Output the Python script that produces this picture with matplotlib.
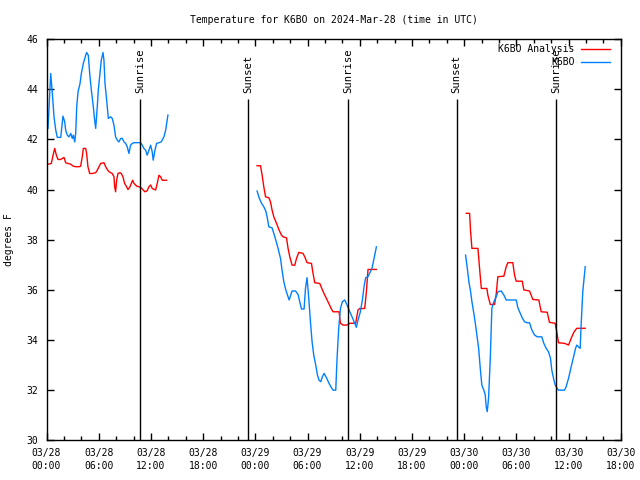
import matplotlib
matplotlib.use("Agg")
import matplotlib.pyplot as plt
from matplotlib.ticker import MultipleLocator

# hours since 2024-03-28 00:00 UTC, temperature in degrees F
obs1_h = [0.17, 0.48, 0.67, 0.86, 1.06, 1.24, 1.63, 1.89, 2.09, 2.2, 2.39, 2.58, 2.78, 2.96, 3.08,
          3.24, 3.35, 3.47, 3.62, 3.85, 4.0, 4.23, 4.5, 4.61, 4.8, 4.96, 5.15, 5.38, 5.53, 5.65,
          5.83, 5.95, 6.14, 6.29, 6.49, 6.6, 6.72, 6.91, 7.1, 7.37, 7.55, 7.75, 7.94, 8.13, 8.32,
          8.52, 8.71, 8.9, 9.09, 9.28, 9.47, 9.66, 9.85, 10.05, 10.81, 11.0, 11.19, 11.39, 11.57,
          11.77, 11.96, 12.15, 12.26, 12.46, 12.65, 12.92, 13.18, 13.49, 13.69, 13.95]
obs1_t = [42.44, 44.63, 43.83, 42.9, 42.37, 42.08, 42.08, 42.93, 42.7, 42.37, 42.17, 42.1, 42.24,
          42.04, 42.17, 41.9, 42.24, 43.3, 43.9, 44.23, 44.63, 45.03, 45.36, 45.47, 45.36, 44.63,
          43.97, 43.3, 42.77, 42.44, 43.3, 43.97, 44.63, 45.16, 45.47, 45.16, 44.23, 43.57, 42.84,
          42.9, 42.84, 42.57, 42.1, 41.97, 41.9, 42.04, 42.04, 41.9, 41.84, 41.7, 41.44, 41.77,
          41.84, 41.87, 41.87, 41.77, 41.64, 41.57, 41.37, 41.57, 41.77, 41.5, 41.17, 41.57, 41.84,
          41.87, 41.9, 42.1, 42.37, 42.97]

ana1_h = [0.17, 0.55, 0.75, 0.94, 1.13, 1.32, 1.63, 1.81, 2.01, 2.2, 2.47, 2.78, 3.08, 3.35, 3.73,
          3.92, 4.11, 4.23, 4.5, 4.61, 4.76, 4.96, 5.26, 5.65, 5.83, 6.03, 6.22, 6.6, 6.8, 6.98,
          7.18, 7.55, 7.75, 7.83, 7.94, 8.06, 8.21, 8.44, 8.59, 8.78, 8.98, 9.2, 9.36, 9.59, 9.74,
          9.9, 10.05, 10.36, 10.62, 10.88, 11.11, 11.31, 11.57, 11.77, 11.96, 12.15, 12.54, 12.72,
          12.92, 13.11, 13.3, 13.8]
ana1_t = [41.01, 41.04, 41.37, 41.64, 41.37, 41.2, 41.2, 41.24, 41.28, 41.07, 41.04, 41.01, 40.93,
          40.91, 40.91, 40.93, 41.31, 41.64, 41.64, 41.44, 40.91, 40.64, 40.64, 40.67, 40.77, 40.91,
          41.04, 41.07, 40.91, 40.8, 40.71, 40.64, 40.51, 40.11, 39.91, 40.37, 40.64, 40.67, 40.64,
          40.51, 40.24, 40.11, 40.0, 40.11, 40.24, 40.37, 40.24, 40.14, 40.11, 40.07, 39.98, 39.91,
          39.95, 40.11, 40.18, 40.04, 39.98, 40.24, 40.57, 40.51, 40.37, 40.37]

obs2_h = [24.2, 24.43, 24.71, 24.97, 25.2, 25.35, 25.55, 25.92, 26.12, 26.35, 26.61, 26.89, 27.07,
          27.27, 27.5, 27.69, 27.88, 28.22, 28.61, 28.91, 29.1, 29.3, 29.6, 29.76, 29.94, 30.14,
          30.33, 30.52, 30.71, 30.94, 31.14, 31.32, 31.52, 31.71, 31.9, 32.17, 32.47, 32.74, 32.93,
          33.24, 33.39, 33.58, 33.78, 34.0, 34.27, 34.54, 34.85, 35.16, 35.42, 35.61, 35.8, 36.07,
          36.3, 36.49, 36.68, 36.95, 37.22, 37.4, 37.6, 37.91]
obs2_t = [39.94, 39.67, 39.45, 39.31, 39.14, 38.91, 38.51, 38.47, 38.25, 37.98, 37.65, 37.25, 36.78,
          36.32, 35.99, 35.79, 35.59, 35.95, 35.95, 35.81, 35.52, 35.23, 35.23, 36.05, 36.48, 35.65,
          34.72, 33.92, 33.39, 32.99, 32.59, 32.39, 32.33, 32.53, 32.66, 32.49, 32.26, 32.09, 31.99,
          31.99, 33.26, 34.46, 35.25, 35.52, 35.59, 35.39, 35.12, 34.88, 34.66, 34.5, 34.79, 35.12,
          35.59, 36.12, 36.48, 36.52, 36.72, 36.85, 37.18, 37.71]

ana2_h = [24.2, 24.59, 24.78, 24.97, 25.17, 25.55, 25.74, 25.92, 26.12, 26.43, 26.73, 27.0, 27.19,
          27.58, 27.76, 27.96, 28.22, 28.53, 28.73, 28.99, 29.48, 29.68, 29.94, 30.45, 30.63, 30.83,
          31.4, 31.71, 31.97, 32.35, 32.74, 32.93, 33.62, 33.78, 34.08, 34.54, 34.85, 35.53, 35.8,
          35.99, 36.57, 36.76, 36.95, 37.91]
ana2_t = [40.95, 40.95, 40.57, 40.11, 39.71, 39.67, 39.51, 39.18, 38.91, 38.65, 38.38, 38.18, 38.11,
          38.07, 37.65, 37.31, 36.98, 36.98, 37.25, 37.49, 37.45, 37.31, 37.08, 37.05, 36.65, 36.28,
          36.25, 35.99, 35.79, 35.52, 35.23, 35.12, 35.12, 34.66, 34.59, 34.59, 34.66, 34.66, 35.19,
          35.25, 35.25, 35.92, 36.81, 36.81]

obs3_h = [48.16, 48.36, 48.54, 48.74, 48.89, 49.08, 49.28, 49.46, 49.66, 49.85, 50.03, 50.26, 50.42,
          50.53, 50.65, 50.8, 51.0, 51.18, 51.41, 51.69, 51.87, 52.26, 52.56, 52.83, 53.98, 54.17,
          54.44, 54.67, 54.94, 55.25, 55.51, 55.78, 56.09, 56.39, 56.92, 57.15, 57.43, 57.69, 57.92,
          58.07, 58.27, 58.46, 58.69, 58.84, 59.53, 59.72, 59.99, 60.3, 60.57, 60.8, 60.94, 61.13,
          61.33, 61.44, 61.63, 61.91]
obs3_t = [37.38, 36.85, 36.32, 35.92, 35.52, 35.12, 34.66, 34.19, 33.66, 32.86, 32.19, 31.99, 31.8,
          31.33, 31.13, 31.66, 33.26, 35.25, 35.52, 35.72, 35.92, 35.95, 35.79, 35.59, 35.59, 35.28,
          35.06, 34.88, 34.72, 34.68, 34.68, 34.39, 34.19, 34.12, 34.12, 33.86, 33.66, 33.52, 33.26,
          32.79, 32.46, 32.19, 32.06, 31.99, 31.99, 32.13, 32.46, 32.93, 33.32, 33.66, 33.79, 33.72,
          33.66, 34.59, 35.92, 36.92]

ana3_h = [48.24, 48.62, 48.74, 48.89, 49.58, 49.77, 49.97, 50.61, 50.72, 51.0, 51.49, 51.69, 51.87,
          52.56, 52.83, 53.02, 53.59, 53.79, 53.98, 54.67, 54.86, 55.51, 55.89, 56.58, 56.85, 57.54,
          57.8, 58.46, 58.64, 58.84, 59.53, 59.99, 60.3, 60.6, 60.94, 61.91]
ana3_t = [39.05, 39.05, 38.31, 37.65, 37.65, 36.85, 36.05, 36.05, 35.79, 35.41, 35.41, 35.85, 36.52,
          36.54, 36.92, 37.08, 37.08, 36.58, 36.34, 36.34, 35.99, 35.95, 35.61, 35.59, 35.12, 35.1,
          34.7, 34.66, 34.32, 33.88, 33.86, 33.79, 34.06, 34.3, 34.46, 34.46]

sun_hours = [10.73, 23.13, 34.62, 47.13, 58.61]
sun_names = ["Sunrise", "Sunset", "Sunrise", "Sunset", "Sunrise"]

tick_hours = list(range(0, 67, 6))
tick_labels = ["03/28\n00:00", "03/28\n06:00", "03/28\n12:00", "03/28\n18:00",
               "03/29\n00:00", "03/29\n06:00", "03/29\n12:00", "03/29\n18:00",
               "03/30\n00:00", "03/30\n06:00", "03/30\n12:00", "03/30\n18:00"]

plt.rcParams['font.family'] = 'DejaVu Sans Mono'
plt.rcParams['font.size'] = 7

fig = plt.figure(figsize=(6.4, 4.8), dpi=100)
ax = fig.add_axes([0.0727, 0.0833, 0.8973, 0.835])

red = '#ff0000'
blue = '#0080ff'
ax.plot(ana1_h, ana1_t, color=red, lw=1.0, label='K6BO Analysis')
ax.plot(obs1_h, obs1_t, color=blue, lw=1.0, label='K6BO')
ax.plot(ana2_h, ana2_t, color=red, lw=1.0)
ax.plot(obs2_h, obs2_t, color=blue, lw=1.0)
ax.plot(ana3_h, ana3_t, color=red, lw=1.0)
ax.plot(obs3_h, obs3_t, color=blue, lw=1.0)

ax.vlines(sun_hours, 30, 43.62, color='black', lw=1.0)
for h, name in zip(sun_hours, sun_names):
    ax.text(h, 43.87, name, rotation=90, ha='center', va='bottom', fontsize=7.6)

ax.set_xlim(0, 66)
ax.set_ylim(30, 46)
ax.set_xticks(tick_hours)
ax.set_xticklabels(tick_labels, linespacing=1.35)
ax.xaxis.set_minor_locator(MultipleLocator(2))
ax.yaxis.set_major_locator(MultipleLocator(2))
ax.tick_params(which='both', direction='in', top=True, right=True, width=1)
ax.tick_params(which='major', length=5, pad=6)
ax.tick_params(which='minor', length=3)
for s in ax.spines.values():
    s.set_linewidth(1.0)

ax.set_ylabel('degrees F', labelpad=9)
ax.set_title('Temperature for K6BO on 2024-Mar-28 (time in UTC)', fontsize=7, pad=12)
ax.legend(loc='upper right', bbox_to_anchor=(0.9974, 1.0125), markerfirst=False,
          frameon=False, handlelength=2.9, handletextpad=0.7, borderaxespad=0.6,
          labelspacing=0.35)

plt.savefig('out.png', dpi=100)
